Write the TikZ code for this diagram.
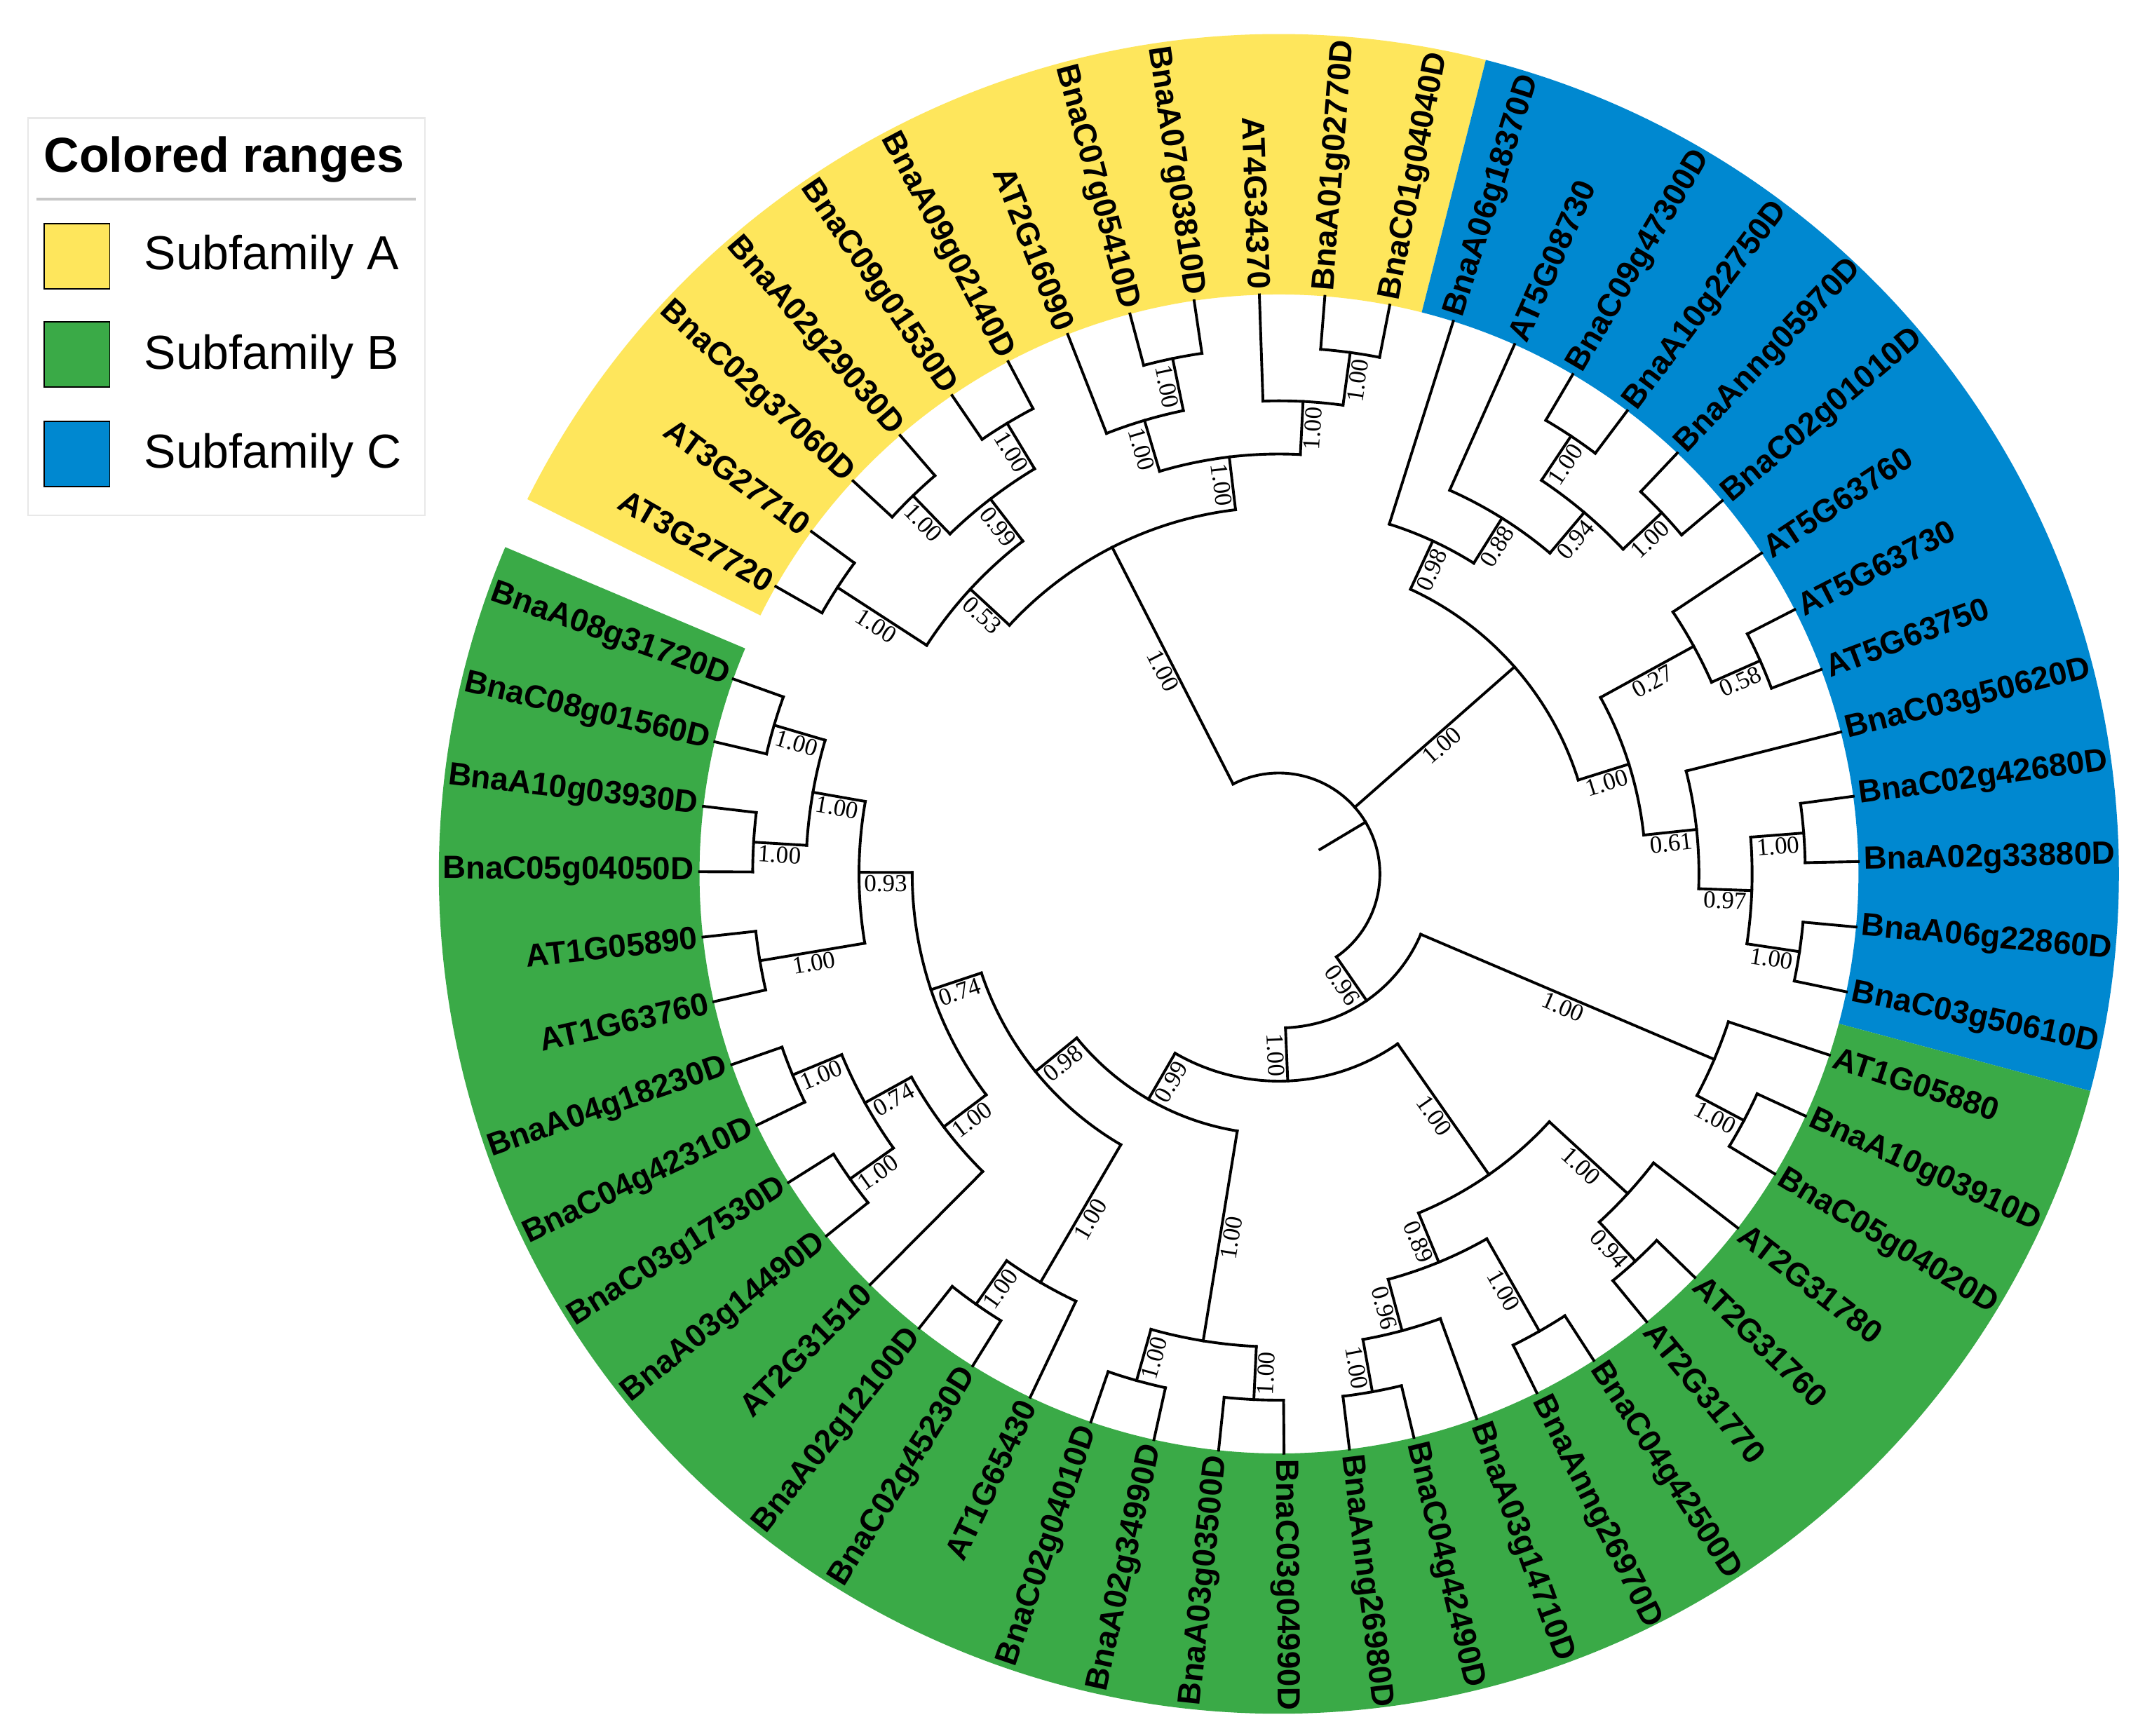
\documentclass[tikz,border=0pt]{standalone}
\usepackage{fontspec}
\setmainfont{Liberation Sans}
\newfontfamily\supfont{Liberation Serif}
\definecolor{yel}{HTML}{FEE65C}
\definecolor{grn}{HTML}{3AAA47}
\definecolor{blu}{HTML}{0088D0}
\tikzset{
  treeline/.style={line width=2pt, black, line cap=rect},
  leaflab/.style={font=\bfseries\fontsize{23.5}{28}\selectfont, inner sep=0pt},
  supp/.style={font=\supfont\fontsize{18}{20}\selectfont, inner sep=1.8pt, anchor=north},
  legtxt/.style={font=\fontsize{35}{40}\selectfont, anchor=base west, inner sep=0pt},
  swatch/.style={draw=black, line width=1pt, minimum size=48pt, inner sep=0pt, anchor=north west}
}
\newcommand{\tsetrot}[1]{%
  \pgfmathsetmacro\myCos{cos(#1)}%
  \ifdim\myCos pt<0pt\relax
    \pgfmathsetmacro\myRot{#1+180}\def\myAnc{east}%
  \else
    \pgfmathsetmacro\myRot{#1}\def\myAnc{west}%
  \fi}
\newcommand{\tbranch}[5]{%
  \coordinate (#1b) at (#2:#3pt);
  \coordinate (#1) at (#2:#4pt);
  \draw[treeline] (#1b) -- (#1);
  \tsetrot{#2}%
  \pgfmathsetmacro\myMid{(#3+#4)/2}%
  \node[supp, rotate=\myRot] (#1s) at (#2:\myMid pt) {#5};
}
\newcommand{\tleaf}[4]{%
  \coordinate (#1b) at (#2:#3pt);
  \coordinate (#1) at (#2:425pt);
  \draw[treeline] (#1b) -- (#1);
  \tsetrot{#2}%
  \node[leaflab, rotate=\myRot, anchor=\myAnc] (#1t) at (#2:429pt) {#4};
}
\newcommand{\tarc}[4]{\draw[treeline] (#1) arc[start angle=#2, end angle=#3, radius=#4pt];}
\begin{document}
\begin{tikzpicture}[x=1pt,y=1pt]
\useasboundingbox (-938,-632) rectangle (630,641);
\fill[white] (-938,-632) rectangle (630,641);
% colored ranges
\fill[yel] (153.5:425pt) arc[start angle=153.5, end angle=75.74, radius=425pt] -- (75.74:616pt) arc[start angle=75.74, end angle=153.5, radius=616pt] -- cycle;
\fill[blu] (75.74:425pt) arc[start angle=75.74, end angle=-14.98, radius=425pt] -- (-14.98:616pt) arc[start angle=-14.98, end angle=75.74, radius=616pt] -- cycle;
\fill[grn] (-14.98:425pt) arc[start angle=-14.98, end angle=-202.9, radius=425pt] -- (-202.9:616pt) arc[start angle=-202.9, end angle=-14.98, radius=616pt] -- cycle;
% root
\coordinate (rootb) at (30.86:35pt);
\coordinate (root) at (30.86:74pt);
\draw[treeline] (rootb) -- (root);
% ---------- Subfamily A ----------
\tbranch{Yr}{117.05}{74}{269}{1.00}
\tbranch{YA}{137.30}{269}{308}{0.53}
\tbranch{YB}{96.80}{269}{308}{1.00}
\tarc{YAb}{137.30}{96.80}{269}
\tbranch{Y12}{147.02}{308}{386}{1.00}
\tbranch{Y36}{127.58}{308}{347}{0.99}
\tarc{Y12b}{147.02}{127.58}{308}
\tleaf{l1}{150.26}{386}{AT3G27720}
\tleaf{l2}{143.78}{386}{AT3G27710}
\tarc{l1b}{150.26}{143.78}{386}
\tbranch{Y34}{134.06}{347}{386}{1.00}
\tbranch{Y56}{121.10}{347}{386}{1.00}
\tarc{Y34b}{134.06}{121.10}{347}
\tleaf{l3}{137.30}{386}{BnaC02g37060D}
\tleaf{l4}{130.82}{386}{BnaA02g29030D}
\tarc{l3b}{137.30}{130.82}{386}
\tleaf{l5}{124.34}{386}{BnaC09g01530D}
\tleaf{l6}{117.86}{386}{BnaA09g02140D}
\tarc{l5b}{124.34}{117.86}{386}
\tbranch{Y79}{106.52}{308}{347}{1.00}
\tbranch{Y1012}{87.08}{308}{347}{1.00}
\tarc{Y79b}{106.52}{87.08}{308}
\tleaf{l7}{111.38}{347}{AT2G16090}
\tbranch{Y89}{101.66}{347}{386}{1.00}
\tarc{l7b}{111.38}{101.66}{347}
\tleaf{l8}{104.90}{386}{BnaC07g05410D}
\tleaf{l9}{98.42}{386}{BnaA07g03810D}
\tarc{l8b}{104.90}{98.42}{386}
\tleaf{l10}{91.94}{347}{AT4G34370}
\tbranch{Y1112}{82.22}{347}{386}{1.00}
\tarc{l10b}{91.94}{82.22}{347}
\tleaf{l11}{85.46}{386}{BnaA01g02770D}
\tleaf{l12}{78.98}{386}{BnaC01g04040D}
\tarc{l11b}{85.46}{78.98}{386}
% ---------- Subfamily C ----------
\tbranch{Cr}{41.32}{74}{230}{1.00}
\tbranch{C98}{65.21}{230}{269}{0.98}
\tbranch{C1926}{17.42}{230}{269}{1.00}
\tarc{C98b}{65.21}{17.42}{230}
\tleaf{l13}{72.50}{269}{BnaA06g18370D}
\tbranch{C88}{57.92}{269}{308}{0.88}
\tarc{l13b}{72.50}{57.92}{269}
\tleaf{l14}{66.02}{308}{AT5G08730}
\tbranch{C94}{49.82}{308}{347}{0.94}
\tarc{l14b}{66.02}{49.82}{308}
\tbranch{C1516}{56.30}{347}{386}{1.00}
\tbranch{C1718}{43.34}{347}{386}{1.00}
\tarc{C1516b}{56.30}{43.34}{347}
\tleaf{l15}{59.54}{386}{BnaC09g47300D}
\tleaf{l16}{53.06}{386}{BnaA10g22750D}
\tarc{l15b}{59.54}{53.06}{386}
\tleaf{l17}{46.58}{386}{BnaAnng05970D}
\tleaf{l18}{40.10}{386}{BnaC02g01010D}
\tarc{l17b}{46.58}{40.10}{386}
\tbranch{C27}{28.76}{269}{347}{0.27}
\tbranch{C61}{6.08}{269}{308}{0.61}
\tarc{C27b}{28.76}{6.08}{269}
\tleaf{l19}{33.62}{347}{AT5G63760}
\tbranch{C2021}{23.90}{347}{386}{0.58}
\tarc{l19b}{33.62}{23.90}{347}
\tleaf{l20}{27.14}{386}{AT5G63730}
\tleaf{l21}{20.66}{386}{AT5G63750}
\tarc{l20b}{27.14}{20.66}{386}
\tleaf{l22}{14.18}{308}{BnaC03g50620D}
\tbranch{C97}{-2.02}{308}{347}{0.97}
\tarc{l22b}{14.18}{-2.02}{308}
\tbranch{C2324}{4.46}{347}{386}{1.00}
\tbranch{C2526}{-8.50}{347}{386}{1.00}
\tarc{C2324b}{4.46}{-8.50}{347}
\tleaf{l23}{7.70}{386}{BnaC02g42680D}
\tleaf{l24}{1.22}{386}{BnaA02g33880D}
\tarc{l23b}{7.70}{1.22}{386}
\tleaf{l25}{-5.26}{386}{BnaA06g22860D}
\tleaf{l26}{-11.74}{386}{BnaC03g50610D}
\tarc{l25b}{-5.26}{-11.74}{386}
% ---------- Subfamily B ----------
\tbranch{G1}{-55.33}{74}{113}{0.96}
\tarc{Yrb}{117.05}{-55.33}{74}
\tbranch{G27}{-23.08}{113}{347}{1.00}
\tbranch{G2}{-87.58}{113}{152}{1.00}
\tarc{G27b}{-23.08}{-87.58}{113}
\tleaf{l27}{-18.22}{347}{AT1G05880}
\tbranch{G2829}{-27.94}{347}{386}{1.00}
\tarc{l27b}{-18.22}{-27.94}{347}
\tleaf{l28}{-24.70}{386}{BnaA10g03910D}
\tleaf{l29}{-31.18}{386}{BnaC05g04020D}
\tarc{l28b}{-24.70}{-31.18}{386}
\tbranch{G3}{-55.075}{152}{269}{1.00}
\tbranch{G4}{-120.08}{152}{191}{0.99}
\tarc{G3b}{-55.075}{-120.08}{152}
\tbranch{G5}{-42.52}{269}{347}{1.00}
\tbranch{G6}{-67.63}{269}{308}{0.89}
\tarc{G5b}{-42.52}{-67.63}{269}
\tleaf{l30}{-37.66}{347}{AT2G31780}
\tbranch{G3132}{-47.38}{347}{386}{0.94}
\tarc{l30b}{-37.66}{-47.38}{347}
\tleaf{l31}{-44.14}{386}{AT2G31760}
\tleaf{l32}{-50.62}{386}{AT2G31770}
\tarc{l31b}{-44.14}{-50.62}{386}
\tbranch{G3334}{-60.34}{308}{386}{1.00}
\tbranch{G7}{-74.92}{308}{347}{0.96}
\tarc{G3334b}{-60.34}{-74.92}{308}
\tleaf{l33}{-57.10}{386}{BnaC04g42500D}
\tleaf{l34}{-63.58}{386}{BnaAnng26970D}
\tarc{l33b}{-57.10}{-63.58}{386}
\tleaf{l35}{-70.06}{347}{BnaA03g14710D}
\tbranch{G3637}{-79.78}{347}{386}{1.00}
\tarc{l35b}{-70.06}{-79.78}{347}
\tleaf{l36}{-76.54}{386}{BnaC04g42490D}
\tleaf{l37}{-83.02}{386}{BnaAnng26980D}
\tarc{l36b}{-76.54}{-83.02}{386}
\tbranch{G3841}{-99.22}{191}{347}{1.00}
\tbranch{G8}{-140.94}{191}{230}{0.98}
\tarc{G3841b}{-99.22}{-140.94}{191}
\tbranch{G3839}{-92.74}{347}{386}{1.00}
\tbranch{G4041}{-105.70}{347}{386}{1.00}
\tarc{G3839b}{-92.74}{-105.70}{347}
\tleaf{l38}{-89.50}{386}{BnaC03g04990D}
\tleaf{l39}{-95.98}{386}{BnaA03g03500D}
\tarc{l38b}{-89.50}{-95.98}{386}
\tleaf{l40}{-102.46}{386}{BnaA02g34990D}
\tleaf{l41}{-108.94}{386}{BnaC02g04010D}
\tarc{l40b}{-102.46}{-108.94}{386}
\tbranch{G4244}{-120.28}{230}{347}{1.00}
\tbranch{G9}{-161.59}{230}{269}{0.74}
\tarc{G4244b}{-120.28}{-161.59}{230}
\tleaf{l42}{-115.42}{347}{AT1G65430}
\tbranch{G4344}{-125.14}{347}{386}{1.00}
\tarc{l42b}{-115.42}{-125.14}{347}
\tleaf{l43}{-121.90}{386}{BnaC02g45230D}
\tleaf{l44}{-128.38}{386}{BnaA02g12100D}
\tarc{l43b}{-121.90}{-128.38}{386}
\tbranch{G10}{-142.96}{269}{308}{1.00}
\tbranch{G12}{-180.22}{269}{308}{0.93}
\tarc{G10b}{-142.96}{-180.22}{269}
\tleaf{l45}{-134.86}{308}{AT2G31510}
\tbranch{G11}{-151.06}{308}{347}{0.74}
\tarc{l45b}{-134.86}{-151.06}{308}
\tbranch{G4647}{-144.58}{347}{386}{1.00}
\tbranch{G4849}{-157.54}{347}{386}{1.00}
\tarc{G4647b}{-144.58}{-157.54}{347}
\tleaf{l46}{-141.34}{386}{BnaA03g14490D}
\tleaf{l47}{-147.82}{386}{BnaC03g17530D}
\tarc{l46b}{-141.34}{-147.82}{386}
\tleaf{l48}{-154.30}{386}{BnaC04g42310D}
\tleaf{l49}{-160.78}{386}{BnaA04g18230D}
\tarc{l48b}{-154.30}{-160.78}{386}
\tbranch{G5051}{-170.50}{308}{386}{1.00}
\tbranch{G5255}{-189.94}{308}{347}{1.00}
\tarc{G5051b}{-170.50}{-189.94}{308}
\tleaf{l50}{-167.26}{386}{AT1G63760}
\tleaf{l51}{-173.74}{386}{AT1G05890}
\tarc{l50b}{-167.26}{-173.74}{386}
\tbranch{G5253}{-183.46}{347}{386}{1.00}
\tbranch{G5455}{-196.42}{347}{386}{1.00}
\tarc{G5253b}{-183.46}{-196.42}{347}
\tleaf{l52}{-180.22}{386}{BnaC05g04050D}
\tleaf{l53}{-186.70}{386}{BnaA10g03930D}
\tarc{l52b}{-180.22}{-186.70}{386}
\tleaf{l54}{-193.18}{386}{BnaC08g01560D}
\tleaf{l55}{-199.66}{386}{BnaA08g31720D}
\tarc{l54b}{-193.18}{-199.66}{386}
% ---------- legend ----------
\node[draw=black!9, line width=1.2pt, fill=white, minimum width=291pt, minimum height=291.5pt, anchor=north west, inner sep=0pt] (legbox) at (-918,555) {};
\node[font=\bfseries\fontsize{36}{40}\selectfont, anchor=base west, inner sep=0pt] (legtitle) at (-906,514.5) {Colored ranges};
\coordinate (sepL) at (-911,495);
\coordinate (sepR) at (-633,495);
\draw[black!22, line width=2pt] (sepL) -- (sepR);
\node[swatch, fill=yel] (swA) at (-906,477.5) {};
\node[legtxt] (labA) at (-832.4,443) {Subfamily A};
\node[swatch, fill=grn] (swB) at (-906,405.5) {};
\node[legtxt] (labB) at (-832.4,370.4) {Subfamily B};
\node[swatch, fill=blu] (swC) at (-906,332.4) {};
\node[legtxt] (labC) at (-832.4,297.8) {Subfamily C};
\end{tikzpicture}
\end{document}
